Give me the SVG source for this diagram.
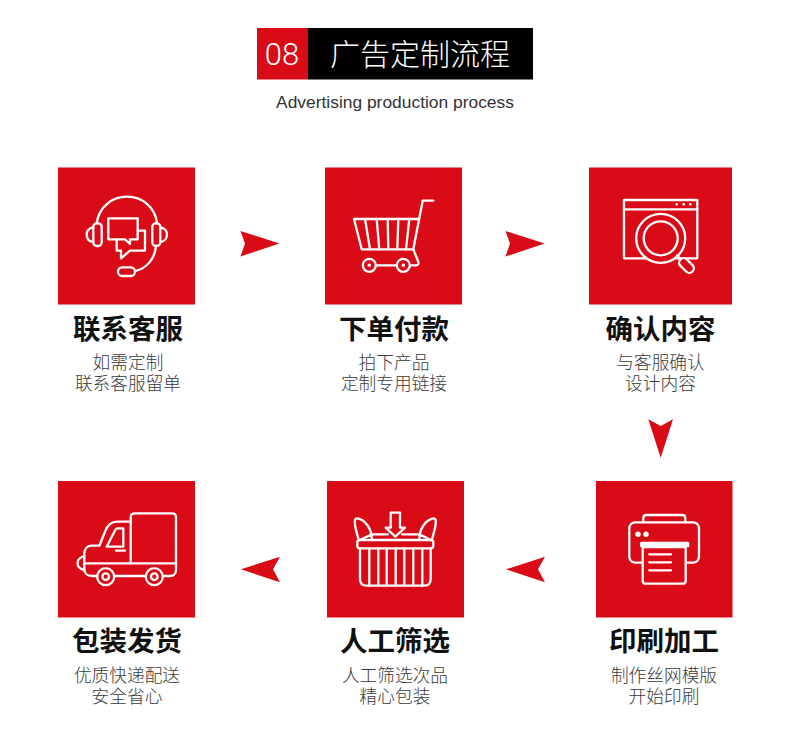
<svg xmlns="http://www.w3.org/2000/svg" width="790" height="754" viewBox="0 0 790 754">
<style>
.box{fill:#d90b17}
.ic{fill:none;stroke:#fff;stroke-width:2.3;stroke-linejoin:round;stroke-linecap:round}
.icf{fill:#d90b17;stroke:#fff;stroke-width:2.3;stroke-linejoin:round;stroke-linecap:round}
.dot{fill:#fff}
.arrow{fill:#d90b17}
text{text-anchor:middle;font-family:"Noto Sans CJK SC","Noto Sans",sans-serif}
.t{font-size:27.5px;font-weight:700;fill:#111}
.s{font-size:17.7px;fill:#3a3a3a;font-weight:300}
</style>
<rect width="790" height="754" fill="#fff"/>
<g id="header">
<rect x="257" y="28" width="51" height="51.500" fill="#d90b17"/>
<rect x="308" y="28" width="225" height="51.500" fill="#000"/>
<text x="282" y="65" style="font-family:Roboto,'Liberation Sans',sans-serif;font-size:31px;font-weight:300" fill="#fff">08</text>
<text x="420" y="65" style="font-size:30px;font-weight:300" fill="#fff">广告定制流程</text>
<text x="395" y="107.500" style="font-family:'Liberation Sans',Roboto,sans-serif;font-size:17.400px" fill="#333">Advertising production process</text>
</g>
<g id="connectors">
<polygon class="arrow" points="240.500,231 279.500,243.500 240.500,256.500 245,243.500"/>
<polygon class="arrow" points="505.500,231 544.700,243.500 505.500,256.500 510,243.500"/>
<polygon class="arrow" points="648.300,419.300 660.700,426 673,419.300 660.700,457.700"/>
<polygon class="arrow" points="545,556.700 506,569.300 545,582.300 538,569.300"/>
<polygon class="arrow" points="280,556.700 241,569.300 280,582.300 273,569.300"/>
</g>
<g id="node-1">
<rect class="box" x="58" y="167.500" width="137" height="137"/>
<path class="ic" d="M96.700 223C99 207 112 196.700 127 196.700C142 196.700 155 207 157 223"/>
<rect class="ic" x="93.300" y="223.300" width="8.400" height="22.700" rx="3.500"/>
<rect class="ic" x="152.300" y="223.300" width="8" height="22.700" rx="3.500"/>
<path class="ic" d="M93.300 227.500C88.500 228 86.700 231.500 86.700 234.600C86.700 238 88.500 241.500 93.300 242M160.300 227.500C165 228 167 231.500 167 234.600C167 238 165 241.500 160.300 242"/>
<path class="ic" d="M156 246C155 259 146 269 135 271"/>
<rect class="ic" x="118" y="267.300" width="17" height="8.700" rx="4.300"/>
<path class="ic" d="M108.300 218.300H137.700V239.300H130V244L125 239.300H108.300Z"/>
<path class="ic" d="M137.700 230.700H145V250.700H130L121 258.300V250.700H116.700V239.300"/>
</g>
<g id="node-2">
<rect class="box" x="325" y="167.500" width="137" height="137"/>
<path class="ic" d="M433.300 200.700H422.700L413.300 249.300H361.700L354 219H419.300"/>
<path class="ic" d="M413.300 249.300L418.300 261.700C418.800 264 418 265.300 416 265.300H410M376 265.300H396.500"/>
<path class="ic" d="M365 219L370 249.300M376.700 219L379.300 249.300M387.700 219L388.300 249.300M398.300 219L397.300 249.300M409.300 219L406 249.300"/>
<circle class="ic" cx="369.300" cy="265.300" r="6.500"/><circle class="dot" cx="369.300" cy="265.300" r="1.700"/>
<circle class="ic" cx="403.300" cy="265.300" r="6.500"/><circle class="dot" cx="403.300" cy="265.300" r="1.700"/>
</g>
<g id="node-3">
<rect class="box" x="589" y="167.500" width="143" height="137"/>
<rect class="ic" x="624" y="200" width="73.300" height="58.300"/>
<path class="ic" d="M624 209.300H697.300"/>
<circle class="dot" cx="676.700" cy="204.300" r="1.300"/><circle class="dot" cx="683.700" cy="204.300" r="1.300"/><circle class="dot" cx="690.300" cy="204.300" r="1.300"/>
<circle class="icf" cx="660.700" cy="238.300" r="24.500"/>
<circle class="ic" cx="660.700" cy="238.300" r="17"/>
<path class="ic" d="M677 255.500L680.500 258.500"/>
<rect class="icf" x="-4.500" y="-8.500" width="9" height="17" rx="4.500" transform="translate(686.500 265.500) rotate(-45)"/>
</g>
<g id="node-4">
<rect class="box" x="596" y="481" width="136.500" height="136.500"/>
<path class="ic" d="M643.300 522V518C643.300 516 644.500 515 646.500 515H682C684 515 685.300 516 685.300 518V522"/>
<rect class="ic" x="629.300" y="522.300" width="69.700" height="40.400" rx="6"/>
<path class="icf" d="M642.700 547H685.700V580.700C685.700 582.700 684.700 583.700 682.700 583.700H645.700C643.700 583.700 642.700 582.700 642.700 580.700Z"/>
<rect class="dot" x="640" y="541.700" width="49.300" height="5.600" rx="1.500"/>
<path class="ic" d="M649.300 554.300H671M649.300 562.300H671M649.300 570.300H671"/>
<circle class="dot" cx="638" cy="534.300" r="2.700"/><circle class="dot" cx="646" cy="534.300" r="2.700"/>
</g>
<g id="node-5">
<rect class="box" x="327" y="481" width="137" height="136.500"/>
<path class="ic" d="M358.300 538.300C356 530 354 525 355 520C356 517.500 358 518 362 520C367 523 370 529 371.700 534.300"/>
<path class="ic" d="M432.300 538.300C434.500 530 436.500 525 435.700 520C435 517.500 433 518 429 520C424 523 421 529 419.500 534.300"/>
<path class="ic" d="M360 540L371.700 534.300H388M402 534.300H419.500L431 540M371.700 534.300V540M419.500 534.300V540"/>
<rect class="ic" x="357.300" y="540" width="76" height="8.300" rx="2.500"/>
<path class="ic" d="M360 548.300V579C360 583.500 362 585.700 366.500 585.700H424C428.500 585.700 430.700 583.500 430.700 579V548.300"/>
<path class="ic" d="M369.300 548.300V585.700M378.300 548.300V585.700M386.700 548.300V585.700M395.700 548.300V585.700M404.300 548.300V585.700M413.300 548.300V585.700M422.300 548.300V585.700"/>
<path class="ic" d="M390.700 512.700H400V527.700H405L395.300 536.700L385.700 527.700H390.700Z"/>
</g>
<g id="node-6">
<rect class="box" x="58" y="481" width="137" height="136.500"/>
<path class="ic" d="M130.700 563.300V517C130.700 514.500 132.500 513.300 135 513.300H172C175 513.300 176 515 176 517V570C176 573.500 173.500 576 170 576H163M146 576H114.500M97 576H92C87 576 84.300 573 84.300 569V553.500C84.300 548.500 87.500 545.700 92 545.700H99.300L105 531.700C107.500 525 111 521.700 117 521.700H130.700"/>
<path class="ic" d="M84.300 556C79.500 557.500 77.500 560.500 77.500 563C77.500 566 79.500 569 84.300 570"/>
<path class="ic" d="M84.300 563.300H176"/>
<path class="ic" d="M123.300 528.300H118C116.500 528.300 115.500 529 115 530.500L106.700 546.700H123.300Z"/>
<path class="ic" d="M116 550.700H125"/>
<circle class="ic" cx="105.700" cy="576.700" r="8.500"/><circle class="ic" cx="105.700" cy="576.700" r="3.300"/>
<circle class="ic" cx="154.300" cy="576.700" r="8.500"/><circle class="ic" cx="154.300" cy="576.700" r="3.300"/>
</g>
<g id="labels">
<text class="t" x="128" y="339">联系客服</text>
<text class="s" x="128" y="369">如需定制</text>
<text class="s" x="128" y="390">联系客服留单</text>
<text class="t" x="394" y="339">下单付款</text>
<text class="s" x="394" y="369">拍下产品</text>
<text class="s" x="394" y="390">定制专用链接</text>
<text class="t" x="660.500" y="339">确认内容</text>
<text class="s" x="660.500" y="369">与客服确认</text>
<text class="s" x="660.500" y="390">设计内容</text>
<text class="t" x="664" y="651">印刷加工</text>
<text class="s" x="664" y="682">制作丝网模版</text>
<text class="s" x="664" y="703">开始印刷</text>
<text class="t" x="395" y="651">人工筛选</text>
<text class="s" x="395" y="682">人工筛选次品</text>
<text class="s" x="395" y="703">精心包装</text>
<text class="t" x="127" y="651">包装发货</text>
<text class="s" x="127" y="682">优质快递配送</text>
<text class="s" x="127" y="703">安全省心</text>
</g>
</svg>
